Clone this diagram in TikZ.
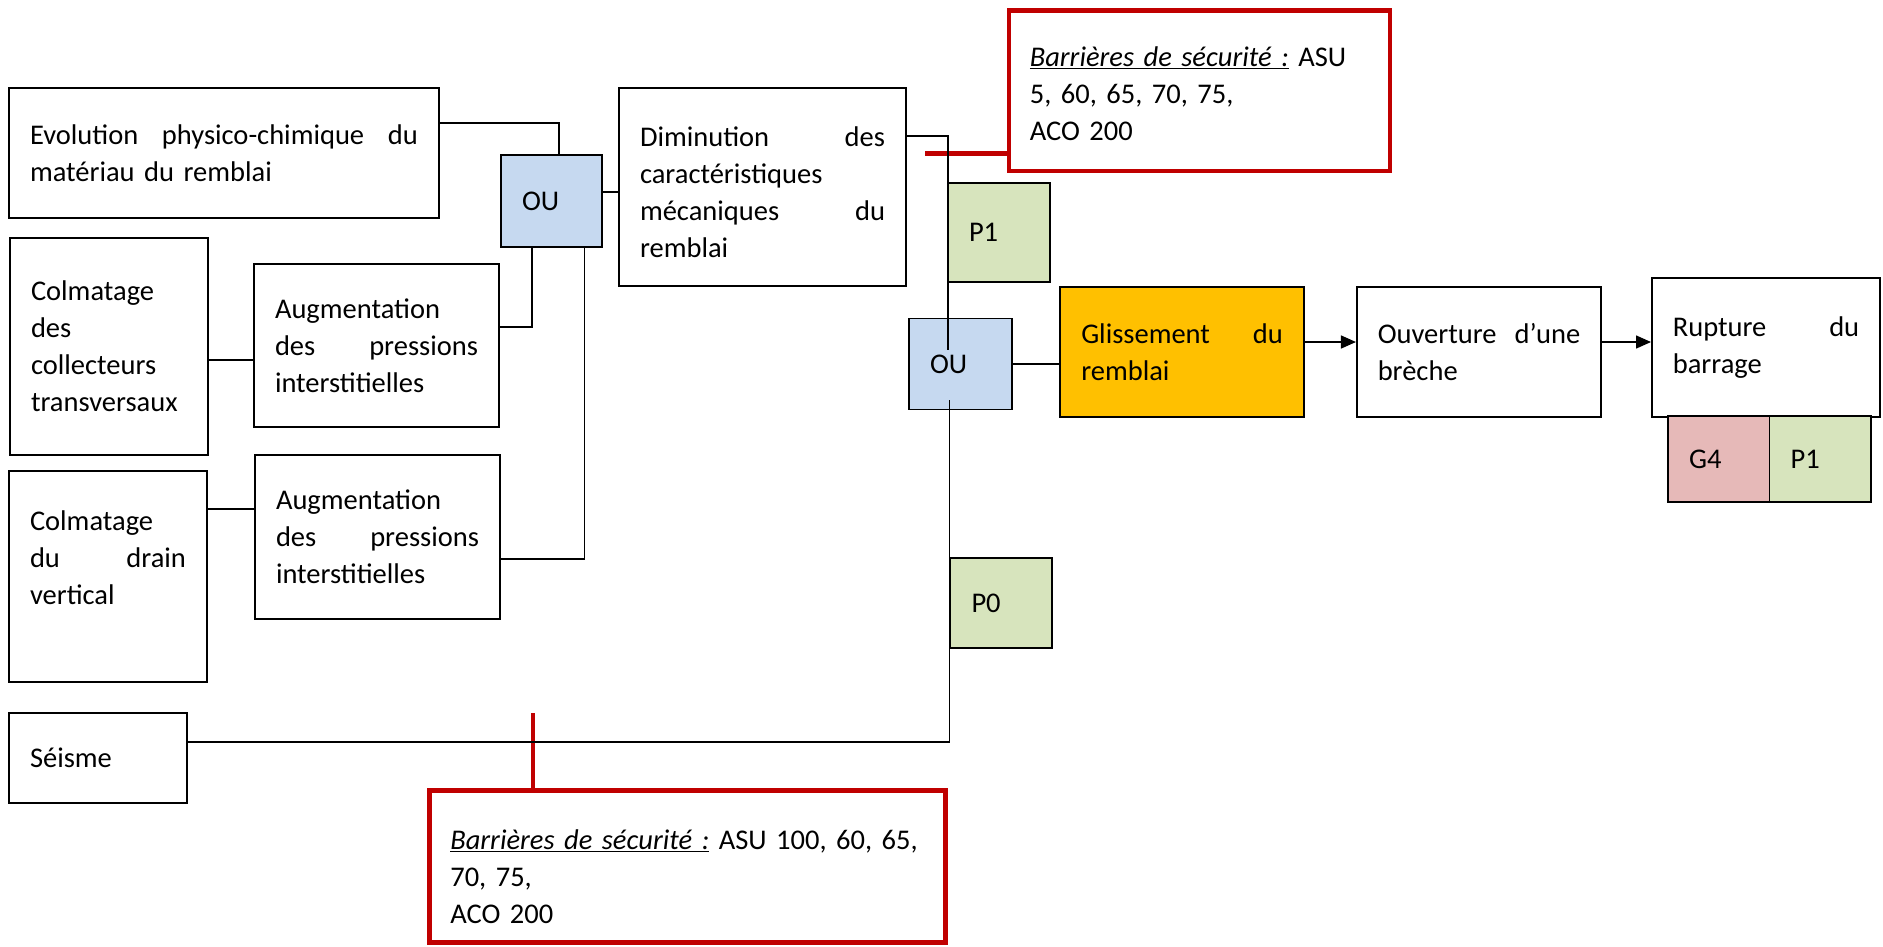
\documentclass[tikz,border=0pt]{standalone}
\usepackage{fontspec}
\setmainfont{Carlito}
\usetikzlibrary{arrows.meta}
\definecolor{oublue}{HTML}{C6D9F0}
\definecolor{pgreen}{HTML}{D7E4BD}
\definecolor{gorange}{HTML}{FFC000}
\definecolor{gpink}{HTML}{E6B9B8}
\definecolor{bred}{HTML}{C00000}
\begin{document}
\begin{tikzpicture}[x=1pt,y=-1pt,
  box/.style={draw=black, line width=1.6pt, fill=white, inner xsep=21pt, inner ysep=0pt, align=left, font=\fontsize{28.5}{37}\selectfont},
  redbox/.style={box, draw=bred, line width=4.5pt},
  oubox/.style={box, fill=oublue},
  pbox/.style={box, fill=pgreen},
  link/.style={draw=black, line width=1.5pt},
  redlink/.style={draw=bred, line width=4.5pt},
  arr/.style={link, -{Triangle[length=15pt,width=13pt]}}
]
\useasboundingbox (0,0) rectangle (1883,946);

% left column
\node[box, text width=388pt, minimum height=130pt] (evo) at (224,153) {Evolution\hfill physico-chimique\hfill du\\matériau du remblai};
\node[box, text width=156pt, minimum height=217pt] (colc) at (109,346.5) {Colmatage\\des\\collecteurs\\transversaux};
\node[box, text width=156pt, minimum height=211pt] (cold) at (108,576.5) {Colmatage\\du\hfill drain\\vertical\\\mbox{}};
\node[box, text width=136pt, minimum height=90pt] (seisme) at (98,758) {Séisme};

\node[box, text width=203pt, minimum height=163pt] (aug1) at (376.5,345.5) {Augmentation\\des\hfill pressions\\interstitielles};
\node[box, text width=203pt, minimum height=164pt] (aug2) at (377.5,537) {Augmentation\\des\hfill pressions\\interstitielles};

\node[oubox, text width=59pt, minimum height=92pt] (ou1) at (551.5,201) {OU};
\node[box, text width=245pt, minimum height=198pt] (dim) at (762.5,187) {\mbox{}\\[-7pt]Diminution\hfill des\\caractéristiques\\mécaniques\hfill du\\remblai};

% right part
\node[redbox, text width=339pt, minimum height=160.5pt] (redtop) at (1199.3,90.5) {\mbox{}\\[-10pt]\underline{\textit{Barrières de sécurité :}} ASU\\5, 60, 65, 70, 75,\\ACO 200};
\node[pbox, text width=60pt, minimum height=99pt] (p1a) at (999,232.5) {P1};
\node[oubox, text width=61pt, minimum height=91pt] (ou2) at (960.5,364) {OU};
\node[box, fill=gorange, text width=201.5pt, minimum height=130pt] (gliss) at (1182,352) {Glissement\hfill du\\remblai};
\node[box, text width=202.5pt, minimum height=130pt] (ouv) at (1479,352) {Ouverture\hfill d’une\\brèche};
\node[box, text width=186.4pt, minimum height=139pt] (rupt) at (1766,347.5) {Rupture\hfill du\\barrage};
\node[box, fill=gpink, text width=59.5pt, minimum height=86pt] (g4) at (1718.75,459) {G4};
\node[pbox, text width=59.5pt, minimum height=86pt] (p1b) at (1820.25,459) {P1};
\node[pbox, text width=59.5pt, minimum height=90pt] (p0) at (1001.25,603) {P0};
\node[redbox, text width=474.4pt, minimum height=152.4pt] (redbot) at (687.5,866.5) {\mbox{}\\[3pt]\underline{\textit{Barrières de sécurité :}} ASU 100, 60, 65,\\70, 75,\\ACO 200};

% red connectors
\coordinate (rtend) at (925,153.6);
\draw[redlink] (rtend) -- (rtend -| redtop.west);
\coordinate (rbend) at (533,713);
\draw[redlink] (rbend) -- (rbend |- redbot.north);

% black connectors
\draw[link] ([yshift=30pt]evo.east) -| ([xshift=7.5pt]ou1.north);
\draw[link] ([yshift=18.5pt]aug1.east) -| ([xshift=-19.5pt]ou1.south);
\draw[link] ([yshift=-22pt]aug2.east) -| ([xshift=33pt]ou1.south);
\draw[link] ([yshift=9pt]ou1.east) -- ([yshift=9pt]ou1.east -| dim.west);
\draw[link] ([yshift=-13.5pt]colc.east) -- ([yshift=-13.5pt]colc.east -| aug1.west);
\draw[link] ([yshift=67.5pt]cold.east) -- ([yshift=67.5pt]cold.east -| aug2.west);
\draw[link] ([yshift=51pt]dim.east) -| ([xshift=-12.5pt,yshift=14pt]ou2.center);
\draw[link] ([xshift=-11pt,yshift=-36pt]ou2.center) |- ([yshift=16pt]seisme.east);
\draw[link] (ou2.east) -- (ou2.east -| gliss.west);
\draw[arr] ([yshift=10pt]gliss.east) -- ([yshift=10pt]gliss.east -| ouv.west);
\draw[arr] ([yshift=10pt]ouv.east) -- ([yshift=10pt]ouv.east -| rupt.west);
\end{tikzpicture}
\end{document}
